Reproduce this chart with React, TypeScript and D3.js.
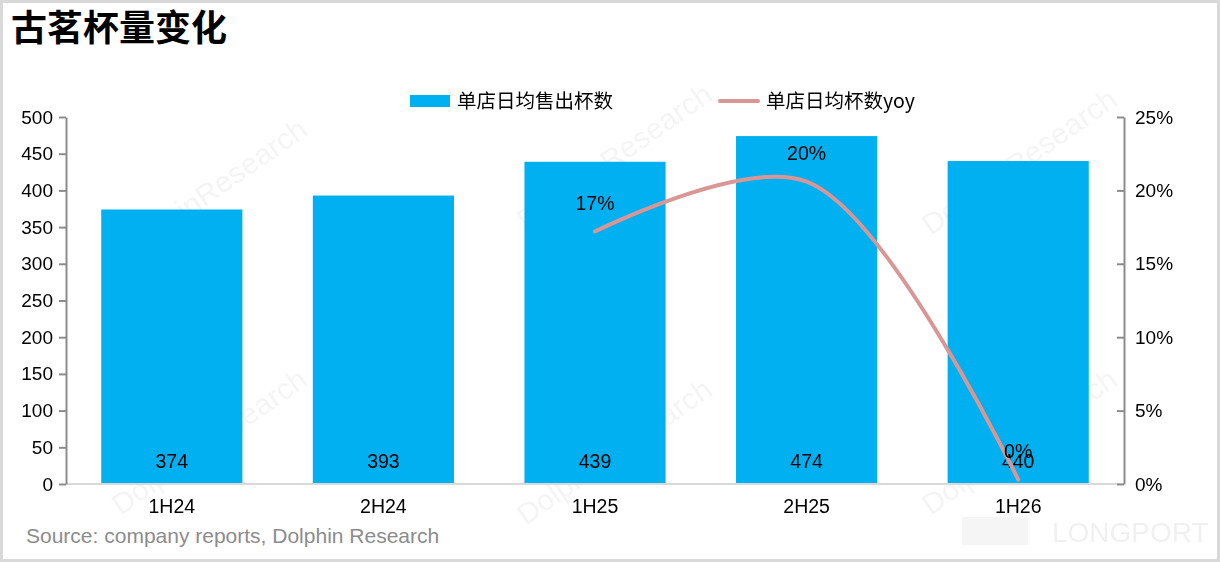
import { useEffect, useRef } from 'react';
import * as d3 from 'd3';

const periods = ['1H24', '2H24', '1H25', '2H25', '1H26'];
const cupsPerStore = [374, 393, 439, 474, 440];
// yoy only from 1H25 onwards
const yoyPeriods = ['1H25', '2H25', '1H26'];
const yoyValues = [17.2, 20.6, 0.3];
const yoyLabels = ['17%', '20%', '0%'];
const leftTicks = [0, 50, 100, 150, 200, 250, 300, 350, 400, 450, 500];
const rightTicks = [0, 5, 10, 15, 20, 25];

const W = 1220;
const H = 562;
const CJK = '"PingFang SC", "Noto Sans CJK SC", sans-serif';
const LATIN = 'Helvetica, "Liberation Sans", Arial, sans-serif';

export default function App() {
  const svgRef = useRef<SVGSVGElement>(null);

  useEffect(() => {
    if (!svgRef.current) return;
    const svg = d3.select(svgRef.current);
    svg.selectAll('*').remove();

    const margin = { top: 117, right: 96, bottom: 78, left: 66 };
    const width = W - margin.left - margin.right;
    const chartHeight = H - margin.top - margin.bottom;

    // background + frame
    svg.append('rect').attr('width', W).attr('height', H).attr('fill', '#fff');
    svg
      .append('rect')
      .attr('x', 1.5)
      .attr('y', 1.5)
      .attr('width', W - 3)
      .attr('height', H - 3)
      .attr('fill', 'none')
      .attr('stroke', '#d9d9d9')
      .attr('stroke-width', 3);

    // watermarks
    const wm = svg.append('g').attr('fill', '#000').attr('opacity', 0.045);
    const wmPos = [
      [215, 200],
      [620, 165],
      [1025, 170],
      [215, 450],
      [620, 460],
      [1025, 450],
    ];
    wmPos.forEach(([x, y]) => {
      wm.append('text')
        .attr('transform', `translate(${x},${y}) rotate(-35)`)
        .attr('text-anchor', 'middle')
        .attr('font-family', LATIN)
        .attr('font-size', 30)
        .text('DolphinResearch');
    });
    svg
      .append('text')
      .attr('x', 1052)
      .attr('y', 542)
      .attr('font-family', LATIN)
      .attr('font-size', 28)
      .attr('fill', '#000')
      .attr('opacity', 0.06)
      .text('LONGPORT');
    svg
      .append('rect')
      .attr('x', 962)
      .attr('y', 517)
      .attr('width', 66)
      .attr('height', 28)
      .attr('fill', '#000')
      .attr('opacity', 0.04);

    // title
    svg
      .append('text')
      .attr('x', 11)
      .attr('y', 41)
      .attr('font-family', CJK)
      .attr('font-size', 36)
      .attr('font-weight', 'bold')
      .attr('fill', '#000')
      .text('古茗杯量变化');

    const g = svg.append('g').attr('transform', `translate(${margin.left},${margin.top})`);

    // Scales
    const x = d3.scaleBand().domain(periods).range([0, width]).paddingInner(0.333).paddingOuter(0.1665);
    const y = d3.scaleLinear().domain([0, 500]).range([chartHeight, 0]);
    const y2 = d3.scaleLinear().domain([0, 25]).range([chartHeight, 0]);

    // Bars
    g.selectAll('.bar')
      .data(periods)
      .enter()
      .append('rect')
      .attr('x', (d) => x(d) || 0)
      .attr('y', (_, i) => y(cupsPerStore[i]))
      .attr('width', x.bandwidth())
      .attr('height', (_, i) => chartHeight - y(cupsPerStore[i]))
      .attr('fill', '#00b0f0');

    // X axis line
    g.append('line')
      .attr('x1', 0)
      .attr('x2', width)
      .attr('y1', chartHeight)
      .attr('y2', chartHeight)
      .attr('stroke', '#d9d9d9')
      .attr('stroke-width', 2);

    // Left axis
    const left = g.append('g').call(d3.axisLeft(y).tickValues(leftTicks).tickSize(7).tickSizeOuter(0));
    left.select('.domain').attr('stroke', '#8c8c8c').attr('stroke-width', 2);
    left.selectAll('.tick line').attr('stroke', '#8c8c8c').attr('stroke-width', 2);
    left
      .selectAll('.tick text')
      .attr('x', -13)
      .attr('fill', '#000')
      .attr('font-size', '19px')
      .attr('font-family', LATIN);

    // Right axis (ticks point inward)
    const right = g
      .append('g')
      .attr('transform', `translate(${width},0)`)
      .call(
        d3
          .axisLeft(y2)
          .tickValues(rightTicks)
          .tickSize(7)
          .tickSizeOuter(0)
          .tickFormat((d) => `${d}%`)
      );
    right.select('.domain').attr('stroke', '#8c8c8c').attr('stroke-width', 2);
    right.selectAll('.tick line').attr('stroke', '#8c8c8c').attr('stroke-width', 2);
    right
      .selectAll('.tick text')
      .attr('x', 11)
      .attr('text-anchor', 'start')
      .attr('fill', '#000')
      .attr('font-size', '19px')
      .attr('font-family', LATIN);

    // X labels
    g.selectAll('.xlabel')
      .data(periods)
      .enter()
      .append('text')
      .attr('x', (d) => (x(d) || 0) + x.bandwidth() / 2)
      .attr('y', chartHeight + 29)
      .attr('text-anchor', 'middle')
      .attr('fill', '#000')
      .attr('font-size', '19.5px')
      .attr('font-family', LATIN)
      .text((d) => d);

    // Bar value labels
    g.selectAll('.vlabel')
      .data(periods)
      .enter()
      .append('text')
      .attr('x', (d) => (x(d) || 0) + x.bandwidth() / 2)
      .attr('y', chartHeight - 16)
      .attr('text-anchor', 'middle')
      .attr('fill', '#000')
      .attr('font-size', '19.5px')
      .attr('font-family', LATIN)
      .text((_, i) => String(cupsPerStore[i]));

    // yoy line
    const cx = (p: string) => (x(p) || 0) + x.bandwidth() / 2;
    const line = d3
      .line<number>()
      .x((_, i) => cx(yoyPeriods[i]))
      .y((d) => y2(d))
      .curve(d3.curveCatmullRom.alpha(0.5));

    g.append('path')
      .datum(yoyValues)
      .attr('fill', 'none')
      .attr('stroke', '#d99694')
      .attr('stroke-width', 4)
      .attr('stroke-linecap', 'round')
      .attr('d', line);

    g.selectAll('.ylabel')
      .data(yoyValues)
      .enter()
      .append('text')
      .attr('x', (_, i) => cx(yoyPeriods[i]))
      .attr('y', (d) => y2(d) - 22)
      .attr('text-anchor', 'middle')
      .attr('fill', '#000')
      .attr('font-size', '19.5px')
      .attr('font-family', LATIN)
      .text((_, i) => yoyLabels[i]);

    // Legend
    const legend = svg.append('g').attr('transform', 'translate(410,101)');
    legend.append('rect').attr('x', 0).attr('y', -6).attr('width', 40).attr('height', 12).attr('fill', '#00b0f0');
    legend
      .append('text')
      .attr('x', 47)
      .attr('y', 7)
      .attr('font-family', CJK)
      .attr('font-size', 19.5)
      .attr('fill', '#000')
      .text('单店日均售出杯数');
    legend
      .append('line')
      .attr('x1', 310)
      .attr('x2', 348)
      .attr('y1', 0)
      .attr('y2', 0)
      .attr('stroke', '#d99694')
      .attr('stroke-width', 4)
      .attr('stroke-linecap', 'round');
    legend
      .append('text')
      .attr('x', 356)
      .attr('y', 7)
      .attr('font-family', CJK)
      .attr('font-size', 19.5)
      .attr('fill', '#000')
      .text('单店日均杯数yoy');

    // Source
    svg
      .append('text')
      .attr('x', 26)
      .attr('y', 543)
      .attr('font-family', LATIN)
      .attr('font-size', 21)
      .attr('fill', '#8c8c8c')
      .text('Source: company reports, Dolphin Research');
  }, []);

  return (
    <div style={{ position: 'absolute', left: 0, top: 0 }}>
      <svg ref={svgRef} width={W} height={H} style={{ display: 'block' }} />
    </div>
  );
}
